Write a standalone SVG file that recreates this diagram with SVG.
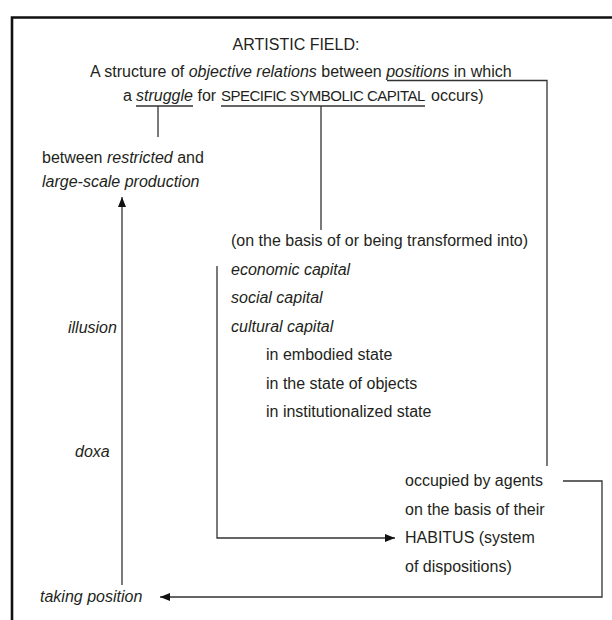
<svg xmlns="http://www.w3.org/2000/svg" width="612" height="620" viewBox="0 0 612 620">
  <defs>
    <style>
      .t { font-family: "Liberation Sans", Arial, sans-serif; font-size: 16px; fill: #231f20; }
      .i { font-style: italic; }
      .caps { font-size: 15px; letter-spacing: -0.5px; }
      .frame { fill: none; stroke: #111; stroke-width: 2.6; }
      .c { fill: none; stroke: #333; stroke-width: 1.3; }
    </style>
    <marker id="arrow" viewBox="0 0 10 8" refX="10" refY="4" markerWidth="10" markerHeight="8" markerUnits="userSpaceOnUse" orient="auto">
      <path d="M0,0 L10,4 L0,8 Z" fill="#111"/>
    </marker>
  </defs>

  <rect width="612" height="620" fill="#fff"/>

  <!-- outer frame (top and left edges) -->
  <path class="frame" d="M12,620 V17.5 H612"/>

  <g id="artistic-field">
    <text class="t" x="296" y="50" text-anchor="middle">ARTISTIC FIELD:</text>
    <text class="t" x="90" y="77">A structure of <tspan class="i">objective relations</tspan> between <tspan class="i">positions</tspan> in which</text>
    <text class="t" x="123" y="101">a </text>
    <text class="t i" x="136" y="101">struggle</text>
    <text class="t" x="197.5" y="101">for</text>
    <text class="t caps" x="221" y="101">SPECIFIC SYMBOLIC CAPITAL</text>
    <text class="t" x="431" y="101">occurs)</text>
  </g>

  <g id="production">
    <text class="t" x="42" y="163">between <tspan class="i">restricted</tspan> and</text>
    <text class="t i" x="42" y="187">large-scale production</text>
  </g>

  <g id="capitals">
    <text class="t" x="231" y="246">(on the basis of or being transformed into)</text>
    <text class="t i" x="231" y="274.5">economic capital</text>
    <text class="t i" x="231" y="303">social capital</text>
    <text class="t i" x="231" y="331.5">cultural capital</text>
    <text class="t" x="266" y="360">in embodied state</text>
    <text class="t" x="266" y="388.5">in the state of objects</text>
    <text class="t" x="266" y="417">in institutionalized state</text>
  </g>

  <g id="illusion">
    <text class="t i" x="68" y="333">illusion</text>
  </g>

  <g id="doxa">
    <text class="t i" x="75" y="457">doxa</text>
  </g>

  <g id="agents">
    <text class="t" x="405" y="486">occupied by agents</text>
    <text class="t" x="405" y="515">on the basis of their</text>
    <text class="t" x="405" y="543">HABITUS (system</text>
    <text class="t" x="405" y="572">of dispositions)</text>
  </g>

  <g id="taking-position">
    <text class="t i" x="40" y="602">taking position</text>
  </g>

  <g id="connectors">
    <!-- positions -> occupied by agents -->
    <path class="c" d="M387,80.5 H547 V466"/>
    <!-- struggle -> between restricted and large-scale production -->
    <path class="c" d="M136,106 H193 M158,106 V137"/>
    <!-- specific symbolic capital -> forms of capital -->
    <path class="c" d="M221,106 H425 M321,106 V230"/>
    <!-- capitals -> habitus -->
    <path class="c" d="M217,266 V538 H395" marker-end="url(#arrow)"/>
    <!-- agents -> taking position -->
    <path class="c" d="M563,481 H602 V597 H160" marker-end="url(#arrow)"/>
    <!-- taking position -> production (illusion / doxa) -->
    <path class="c" d="M122,585 V197" marker-end="url(#arrow)"/>
  </g>
</svg>
